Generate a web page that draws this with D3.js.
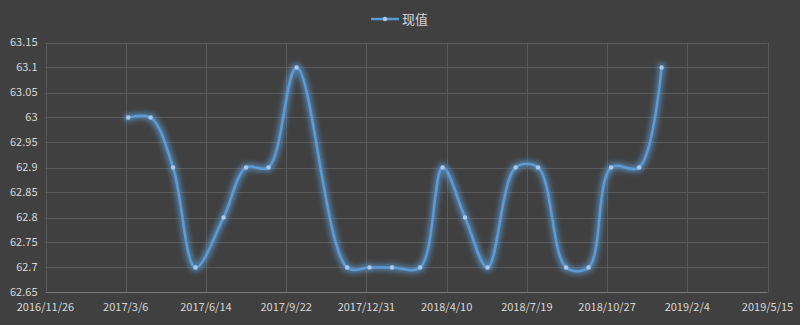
<!DOCTYPE html>
<html>
<head>
<meta charset="utf-8">
<script src="https://cdn.jsdelivr.net/npm/d3@7"></script>
<style>
  html, body { margin: 0; padding: 0; background: #404040; }
  svg { display: block; }
</style>
</head>
<body>
<div id="chart"></div>
<script>
const seriesName = "现值";
const dates = [
  "2017-03-09", "2017-04-06", "2017-05-04", "2017-06-01", "2017-07-06", "2017-08-03",
  "2017-08-31", "2017-10-05", "2017-12-07", "2018-01-04", "2018-02-01", "2018-03-08",
  "2018-04-05", "2018-05-03", "2018-05-31", "2018-07-05", "2018-08-02", "2018-09-06",
  "2018-10-04", "2018-11-01", "2018-12-06", "2019-01-03"
];
const values = [
  63.0, 63.0, 62.9, 62.7, 62.8, 62.9,
  62.9, 63.1, 62.7, 62.7, 62.7, 62.7,
  62.9, 62.8, 62.7, 62.9, 62.9, 62.7,
  62.7, 62.9, 62.9, 63.1
];
const xTickLabels = [
  "2016/11/26", "2017/3/6", "2017/6/14", "2017/9/22", "2017/12/31",
  "2018/4/10", "2018/7/19", "2018/10/27", "2019/2/4", "2019/5/15"
];
const yTicks = [62.65, 62.7, 62.75, 62.8, 62.85, 62.9, 62.95, 63, 63.05, 63.1, 63.15];

const width = 800, height = 325;
const margin = { left: 45.5, right: 32.5, top: 42.5, bottom: 32.5 };

const parseDash = d3.utcParse("%Y-%m-%d");
const parseSlash = s => { const [y, m, d] = s.split("/").map(Number); return new Date(Date.UTC(y, m - 1, d)); };

const data = dates.map((d, i) => ({ date: parseDash(d), value: values[i] }));
const xTicks = xTickLabels.map(parseSlash);

const svg = d3.select("#chart").append("svg")
  .attr("width", width)
  .attr("height", height);

svg.append("rect").attr("width", width).attr("height", height).attr("fill", "#404040");

const x = d3.scaleUtc()
  .domain([xTicks[0], xTicks[xTicks.length - 1]])
  .range([margin.left, width - margin.right]);
const y = d3.scaleLinear()
  .domain([62.65, 63.15])
  .range([height - margin.bottom, margin.top]);

// glow filter
const defs = svg.append("defs");
const glow = defs.append("filter").attr("id", "glow")
  .attr("filterUnits", "userSpaceOnUse")
  .attr("x", 0).attr("y", 0).attr("width", width).attr("height", height);
glow.append("feMorphology").attr("in", "SourceAlpha").attr("operator", "dilate").attr("radius", 1.5).attr("result", "thick");
glow.append("feGaussianBlur").attr("in", "thick").attr("stdDeviation", 2.5).attr("result", "blur");
glow.append("feFlood").attr("flood-color", "#5b9bd5").attr("flood-opacity", 0.65);
glow.append("feComposite").attr("in2", "blur").attr("operator", "in").attr("result", "glowCol");
const merge = glow.append("feMerge");
merge.append("feMergeNode").attr("in", "glowCol");
merge.append("feMergeNode").attr("in", "SourceGraphic");

// gridlines
svg.append("g")
  .selectAll("line")
  .data(yTicks.slice(1))
  .join("line")
    .attr("x1", margin.left).attr("x2", width - margin.right)
    .attr("y1", d => Math.round(y(d)) + 0.5).attr("y2", d => Math.round(y(d)) + 0.5)
    .attr("stroke", "#5a5a5a").attr("stroke-width", 1);

svg.append("g")
  .selectAll("line")
  .data(xTicks)
  .join("line")
    .attr("x1", d => Math.round(x(d)) + 0.5).attr("x2", d => Math.round(x(d)) + 0.5)
    .attr("y1", margin.top).attr("y2", height - margin.bottom)
    .attr("stroke", "#5a5a5a").attr("stroke-width", 1);

// bottom axis line
svg.append("line")
  .attr("x1", margin.left).attr("x2", width - margin.right)
  .attr("y1", y(62.65)).attr("y2", y(62.65))
  .attr("stroke", "#7a7a7a");

const font = "'Noto Sans CJK SC', 'Noto Sans', sans-serif";

// y labels
svg.append("g")
  .selectAll("text")
  .data(yTicks)
  .join("text")
    .attr("x", margin.left - 8)
    .attr("y", d => y(d))
    .attr("dy", "0.35em")
    .attr("text-anchor", "end")
    .attr("font-family", font)
    .attr("font-size", 11)
    .attr("fill", "#d8d8d8")
    .text(d => d);

// x labels
svg.append("g")
  .selectAll("text")
  .data(xTickLabels)
  .join("text")
    .attr("x", (d, i) => x(xTicks[i]))
    .attr("y", height - 14)
    .attr("text-anchor", "middle")
    .attr("font-family", font)
    .attr("font-size", 11)
    .attr("fill", "#d8d8d8")
    .text(d => d);

// series line
const line = d3.line()
  .x(d => x(d.date))
  .y(d => y(d.value))
  .curve(d3.curveCatmullRom.alpha(0.5));

const series = svg.append("g").attr("filter", "url(#glow)");
series.append("path")
  .datum(data)
  .attr("d", line)
  .attr("fill", "none")
  .attr("stroke", "#5b9bd5")
  .attr("stroke-width", 2.5)
  .attr("stroke-linecap", "round");

series.append("g")
  .selectAll("circle")
  .data(data)
  .join("circle")
    .attr("cx", d => x(d.date))
    .attr("cy", d => y(d.value))
    .attr("r", 2.2)
    .attr("fill", "#a8c8ec");

// legend
const legend = svg.append("g").attr("transform", "translate(371,19)");
legend.append("line")
  .attr("x1", 0).attr("x2", 28)
  .attr("stroke", "#5b9bd5").attr("stroke-width", 2.5);
legend.append("circle")
  .attr("cx", 14).attr("r", 2.2).attr("fill", "#a8c8ec");
legend.append("text")
  .attr("x", 31).attr("dy", "0.35em")
  .attr("font-family", font)
  .attr("font-size", 13)
  .attr("fill", "#d8d8d8")
  .text(seriesName);
</script>
</body>
</html>
